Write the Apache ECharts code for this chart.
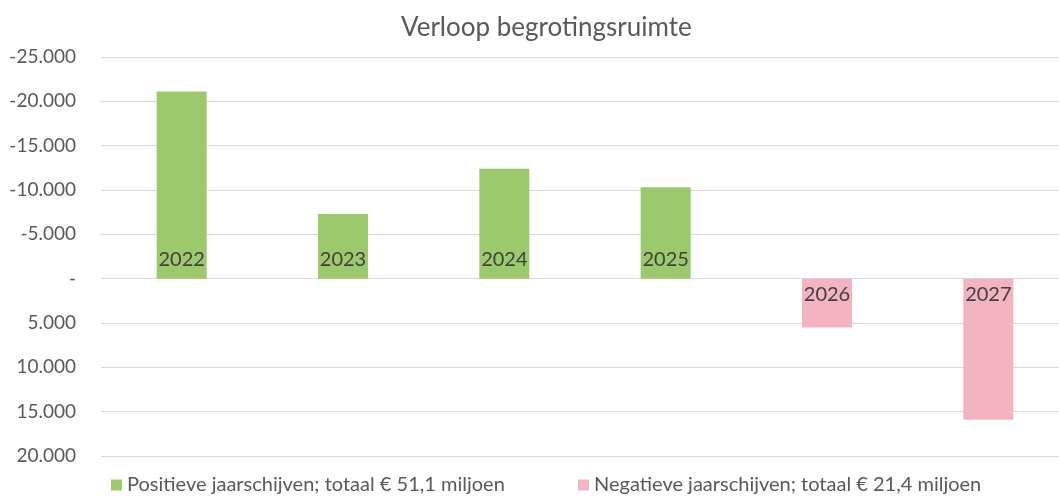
<!DOCTYPE html>
<html>
<head>
<meta charset="utf-8">
<script src="https://cdn.jsdelivr.net/npm/echarts@6/dist/echarts.min.js"></script>
<style>
  html, body { margin: 0; padding: 0; background: #fff; overflow: hidden; }
  /* plotgebied loopt net buiten de rechterrand door, zoals in het origineel */
  #chart { width: 1070px; height: 498px; }
</style>
</head>
<body>
<div id="chart"></div>
<script>
// jaren en bedragen (x 1.000 euro), negatief = positieve ruimte (as omgekeerd)
var jaren = ['2022', '2023', '2024', '2025', '2026', '2027'];
var positief = [-21100, -7300, -12400, -10300, null, null];
var negatief = [null, null, null, null, 5500, 15900];
var naamPositief = 'Positieve jaarschijven; totaal € 51,1 miljoen';
var naamNegatief = 'Negatieve jaarschijven; totaal € 21,4 miljoen';

var lettertype = 'Lato, "Open Sans", sans-serif';

function formatBedrag(v) {
    if (v === 0) return '-';
    var s = Math.abs(v).toString().replace(/\B(?=(\d{3})+(?!\d))/g, '.');
    return (v < 0 ? '-' : '') + s;
}

var chart = echarts.init(document.getElementById('chart'));

var option = {
    animation: false,
    title: {
        text: 'Verloop begrotingsruimte',
        left: 396,
        top: 10,
        textStyle: {
            fontFamily: lettertype,
            fontSize: 26,
            fontWeight: 'normal',
            color: '#595959'
        }
    },
    legend: [{
        data: [naamPositief],
        left: 106,
        bottom: -2,
        itemWidth: 11,
        itemHeight: 11,
        itemGap: 8,
        icon: 'rect',
        textStyle: { fontFamily: lettertype, fontSize: 20, color: '#595959' }
    }, {
        data: [naamNegatief],
        left: 573,
        bottom: -2,
        itemWidth: 11,
        itemHeight: 11,
        icon: 'rect',
        textStyle: { fontFamily: lettertype, fontSize: 20, color: '#595959' }
    }],
    grid: {
        left: 101,
        right: 1,
        top: 57,
        bottom: 42,
        containLabel: false
    },
    xAxis: {
        type: 'category',
        data: jaren,
        axisLine: { show: false },
        axisTick: { show: false },
        axisLabel: { show: false }
    },
    yAxis: {
        type: 'value',
        inverse: true,
        min: -25000,
        max: 20000,
        interval: 5000,
        axisLine: { show: false },
        axisTick: { show: false },
        axisLabel: {
            formatter: formatBedrag,
            margin: 25,
            fontFamily: lettertype,
            fontSize: 19,
            color: '#595959'
        },
        splitLine: { lineStyle: { color: '#d9d9d9', width: 1 } }
    },
    series: [{
        name: naamPositief,
        type: 'bar',
        stack: 'ruimte',
        barWidth: '31%',
        data: positief,
        itemStyle: { color: '#9cc96b' },
        label: {
            show: true,
            position: 'insideBottom',
            distance: 9,
            formatter: '{b}',
            fontFamily: lettertype,
            fontSize: 20,
            color: '#404040'
        }
    }, {
        name: naamNegatief,
        type: 'bar',
        stack: 'ruimte',
        barWidth: '31%',
        data: negatief,
        itemStyle: { color: '#f4b3c1' },
        label: {
            show: true,
            position: 'insideTop',
            distance: 6,
            formatter: '{b}',
            fontFamily: lettertype,
            fontSize: 20,
            color: '#404040'
        }
    }]
};

chart.setOption(option);
</script>
</body>
</html>
